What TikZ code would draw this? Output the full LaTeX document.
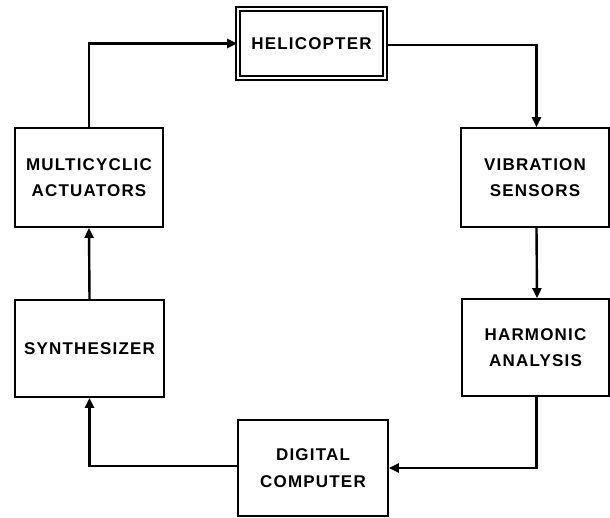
\documentclass[tikz,border=0pt]{standalone}
\usepackage{fontspec}
\setmainfont{Liberation Sans}[LetterSpace=7]
\usetikzlibrary{arrows.meta}
\tikzset{
  blk/.style={draw, line width=1.8pt, rectangle, inner sep=0pt, align=center,
    font=\bfseries\fontsize{17}{26.5}\selectfont},
  flow/.style={line width=2.4pt, -{Triangle[length=10pt,width=9pt]}},
}
\begin{document}
\begin{tikzpicture}[x=1pt,y=-1pt]
\useasboundingbox (0,0) rectangle (610,517);
\node[blk, double, double distance=2.2pt, line width=1.7pt, minimum width=147pt, minimum height=69pt] (heli) at (311.5,43.5) {HELICOPTER};
\node[blk, minimum width=148pt, minimum height=99pt] (multi) at (89,177.5) {MULTICYCLIC\\ACTUATORS};
\node[blk, minimum width=148pt, minimum height=99pt] (vib) at (535,177.5) {VIBRATION\\SENSORS};
\node[blk, minimum width=149pt, minimum height=97pt] (synth) at (89.5,348.5) {SYNTHESIZER};
\node[blk, minimum width=147pt, minimum height=97pt] (harm) at (535.5,347.5) {HARMONIC\\ANALYSIS};
\node[blk, minimum width=150pt, minimum height=96pt] (dig) at (313,468) {DIGITAL\\COMPUTER};
\draw[flow] (multi.north) |- (heli.west);
\draw[flow] ([yshift=-1.5pt]heli.east) -| ([xshift=1.5pt]vib.north);
\draw[flow] ([xshift=1.5pt]vib.south) -- ([xshift=1.5pt]harm.north);
\draw[flow] ([xshift=1pt]harm.south) |- (dig.east);
\draw[flow] ([yshift=2pt]dig.west) -| (synth.south);
\draw[flow] (synth.north) -- (multi.south);
\end{tikzpicture}
\end{document}
